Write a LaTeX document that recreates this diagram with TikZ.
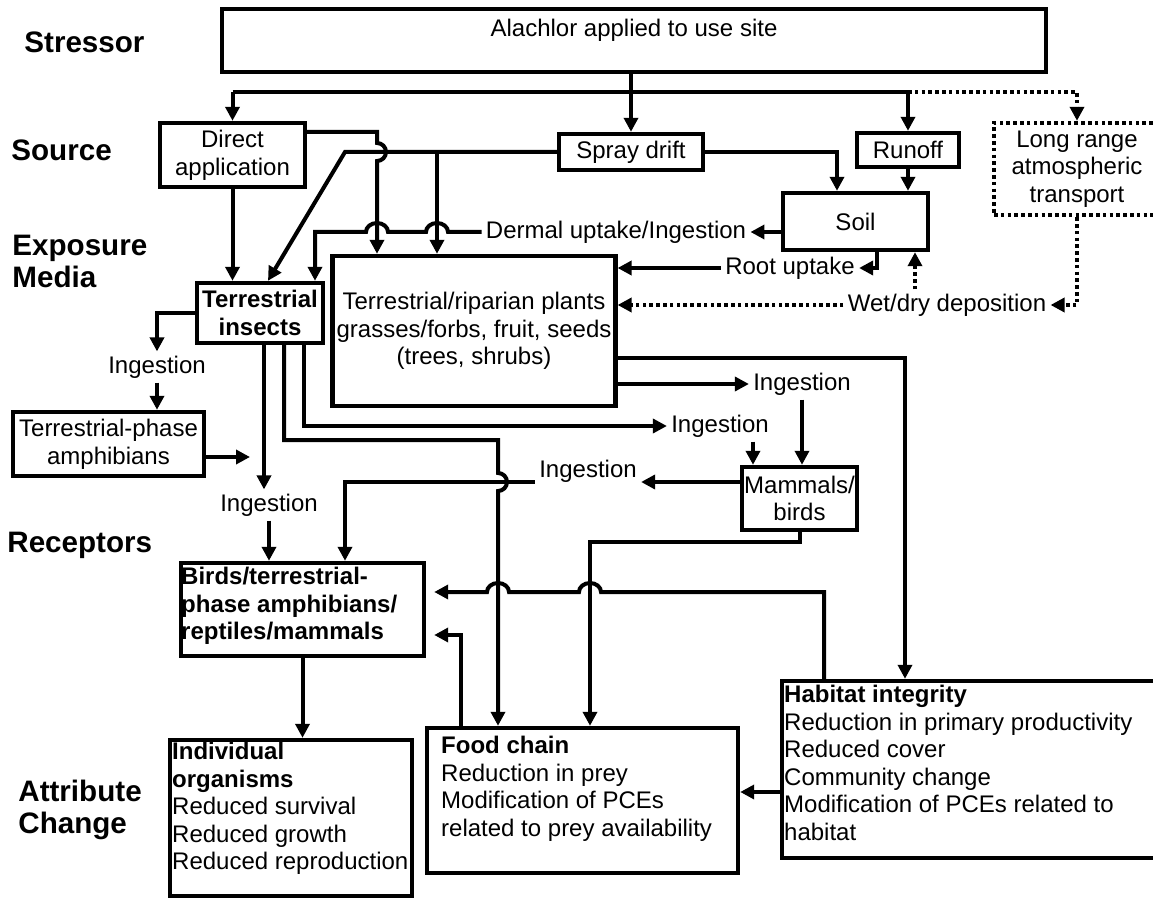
\documentclass[tikz,border=0pt]{standalone}
\usepackage{fontspec}
\setmainfont{Liberation Sans}
\usetikzlibrary{arrows.meta}
\newcommand{\hopr}{9}

\tikzset{
  box/.style={draw, line width=2.2pt, inner sep=2pt, align=center},
  dotbox/.style={draw, line width=2.2pt, dash pattern=on 1.8pt off 1.6pt, inner sep=2pt, align=center},
  lbl/.style={inner sep=2pt, align=center},
  bf/.style={font=\fontsize{12}{13.8}\selectfont\bfseries},
  side/.style={anchor=west, align=left, inner sep=0pt, font=\fontsize{14.8}{16}\selectfont\bfseries},
  ln/.style={line width=2pt},
  arr/.style={line width=2pt, -{Triangle[length=7pt,width=7pt]}},
  dotarr/.style={line width=2.2pt, dash pattern=on 1.8pt off 1.6pt, -{Triangle[length=7pt,width=7pt]}},
}

\begin{document}
\begin{tikzpicture}[x=0.5pt, y=-0.5pt, font=\fontsize{12}{13.8}\selectfont]
\useasboundingbox (0,0) rectangle (1153,899);
\fill[white] (0,0) rectangle (1153,899);

% row labels
\node[side] (lstress) at (24,42) {Stressor};
\node[side] (lsource) at (11,150) {Source};
\node[side] (lexpo) at (12,261) {Exposure\\Media};
\node[side] (lrecep) at (7,545) {Receptors};
\node[side] (lattr) at (18,810) {Attribute\\Change};

% stressor and sources
\node[box, minimum width=412pt, inner ysep=5pt, text height=9pt, text depth=12.5pt] (stress) at (634,40.5) {Alachlor applied to use site};
\node[box, minimum width=72.5pt, minimum height=32pt] (dapp) at (232.5,155) {Direct\\application};
\node[box, minimum width=72pt, minimum height=18pt] (spray) at (631,152) {Spray drift};
\node[box, minimum width=51pt, minimum height=17pt] (runoff) at (908,150) {Runoff};
\node[dotbox, minimum width=83pt, minimum height=46pt] (lrat) at (1077,169) {Long range\\atmospheric\\transport};

% exposure media
\node[box, minimum width=72.5pt, minimum height=28.5pt] (soil) at (855.5,221.5) {Soil};
\node[box, minimum width=141pt, minimum height=75pt] (plants) at (474,331) {Terrestrial/riparian plants\\grasses/forbs, fruit, seeds\\(trees, shrubs)};
\node[box, bf, minimum width=63pt, minimum height=30pt] (insects) at (260,313) {Terrestrial\\insects};
\node[box, minimum width=95.5pt, minimum height=32pt] (amph) at (108.5,444) {Terrestrial-phase\\amphibians};
\node[box, inner xsep=1pt, minimum width=56.5pt, minimum height=31.5pt] (mamm) at (799.5,498.5) {Mammals/\\birds};

% route labels
\node[lbl] (dermal) at (616,232) {Dermal uptake/Ingestion};
\node[lbl] (root) at (790,268) {Root uptake};
\node[lbl] (wetdry) at (947,305) {Wet/dry deposition};
\node[lbl] (ing1) at (157,367) {Ingestion};
\node[lbl] (ing2) at (269,505) {Ingestion};
\node[lbl] (ing3) at (720,426) {Ingestion};
\node[lbl] (ing4) at (802,384) {Ingestion};
\node[lbl] (ing5) at (588,471) {Ingestion};

% receptors and attribute change
\node[box, minimum width=121.5pt, minimum height=46.5pt] (birds) at (302.5,609.5) {};
\node[bf, anchor=north west, align=left, inner sep=1pt] (birdstxt) at ([yshift=-2pt]birds.north west) {Birds/terrestrial-\\phase amphibians/\\reptiles/mammals};
\node[box, minimum width=121pt, minimum height=78pt] (indiv) at (291,818) {};
\node[anchor=north west, align=left, inner sep=1pt] (indivtxt) at ([xshift=1pt,yshift=-1pt]indiv.north west) {\textbf{Individual}\\\textbf{organisms}\\Reduced survival\\Reduced growth\\Reduced reproduction};
\node[box, minimum width=155.5pt, minimum height=72.5pt] (food) at (582.5,800.5) {};
\node[anchor=north west, align=left, inner sep=1pt] (foodtxt) at ([xshift=7pt,yshift=-4pt]food.north west) {\textbf{Food chain}\\Reduction in prey\\Modification of PCEs\\related to prey availability};
\node[box, minimum width=186.5pt, minimum height=88.5pt] (habitat) at (968.5,769.5) {};
\node[anchor=north west, align=left, inner sep=1pt] (habtxt) at ([xshift=1pt,yshift=-2pt]habitat.north west) {\textbf{Habitat integrity}\\Reduction in primary productivity\\Reduced cover\\Community change\\Modification of PCEs related to\\habitat};

% stressor to sources
\draw[ln] (dapp.north |- 0,92) -- (runoff.north |- 0,92);
\draw[arr] (spray.north |- stress.south) -- (spray.north);
\draw[arr] (dapp.north |- 0,92) -- (dapp.north);
\draw[arr] (runoff.north |- 0,92) -- (runoff.north);
\draw[dotarr] (runoff.north |- 0,92) -- (lrat.north |- 0,92) -- (lrat.north);

% sources to media
\draw[arr] (dapp.south) -- (dapp.south |- insects.north);
\draw[arr] (dapp.east |- 0,132) -- (377,132) -- (377,152-\hopr)
  arc[start angle=270, end angle=450, radius=\hopr] -- (377,0 |- plants.north);
\draw[arr] (spray.west) -- (345,152) -- ([xshift=4pt]insects.north);
\draw[arr] (437,152) -- (437,0 |- plants.north);
\draw[arr] (spray.east) -- (837,152) -- (837,0 |- soil.north);
\draw[arr] (runoff.south) -- (runoff.south |- soil.north);

% soil and deposition routes
\draw[arr] (soil.west |- dermal) -- (dermal.east);
\draw[arr] (dermal.west) -- (448,232)
  arc[start angle=0, end angle=-180, x radius=11, y radius=\hopr] -- (388,232)
  arc[start angle=0, end angle=-180, x radius=11, y radius=\hopr] -- (315,232) -- (315,0 |- insects.north);
\draw[arr] (877,0 |- soil.south) -- (877,268) -- (root.east);
\draw[arr] (root.west) -- (root.west -| plants.east);
\draw[dotarr] (lrat.south) -- (lrat.south |- wetdry) -- (wetdry.east);
\draw[dotarr] (wetdry.west) -- (wetdry.west -| plants.east);
\draw[dotarr] (915,0 |- wetdry.north) -- (915,0 |- soil.south);

% insects
\draw[arr] (insects.west) -| (ing1.north);
\draw[arr] (ing1.south) -- (ing1.south |- amph.north);
\coordinate (amphend) at (250,457);
\draw[arr] (amph.east |- amphend) -- (amphend);
\draw[arr] ([xshift=2pt]insects.south) -- ([xshift=2pt]insects.south |- ing2.north);
\draw[arr] (ing2.south) -- (ing2.south |- birds.north);
\draw[arr] (284,0 |- insects.south) -- (284,440) -- (498,440) -- (498,482-\hopr)
  arc[start angle=270, end angle=450, radius=\hopr] -- (498,0 |- food.north);
\draw[arr] (304,0 |- insects.south) -- (304,426) -- (ing3.west);
\draw[arr] (753,0 |- ing3.south) -- (753,0 |- mamm.north);

% plants
\draw[arr] (plants.east |- ing4) -- (ing4.west);
\draw[arr] (ing4.south) -- (ing4.south |- mamm.north);
\draw[arr] (plants.east |- 0,358) -- (905,358) -- (905,0 |- habitat.north);

% mammals
\draw[arr] (mamm.west |- 0,482) -- (ing5.east |- 0,482);
\draw[arr] (ing5.west |- 0,482) -- (345,482) -- (345,0 |- birds.north);
\draw[arr] (800,0 |- mamm.south) -- (800,542) -- (590,542) -- (590,0 |- food.north);

% attribute links
\draw[arr] (824,0 |- habitat.north) -- (824,592) -- (601,592)
  arc[start angle=0, end angle=-180, x radius=11, y radius=\hopr] -- (509,592)
  arc[start angle=0, end angle=-180, x radius=11, y radius=\hopr] -- ([xshift=4pt]birds.east |- 0,592);
\draw[arr] (461,0 |- food.north) -- (461,635) -- ([xshift=4pt]birds.east |- 0,635);
\draw[arr] (birds.south) -- (birds.south |- indiv.north);
\draw[arr] (habitat.west |- 0,792) -- (food.east |- 0,792);
\end{tikzpicture}
\end{document}
